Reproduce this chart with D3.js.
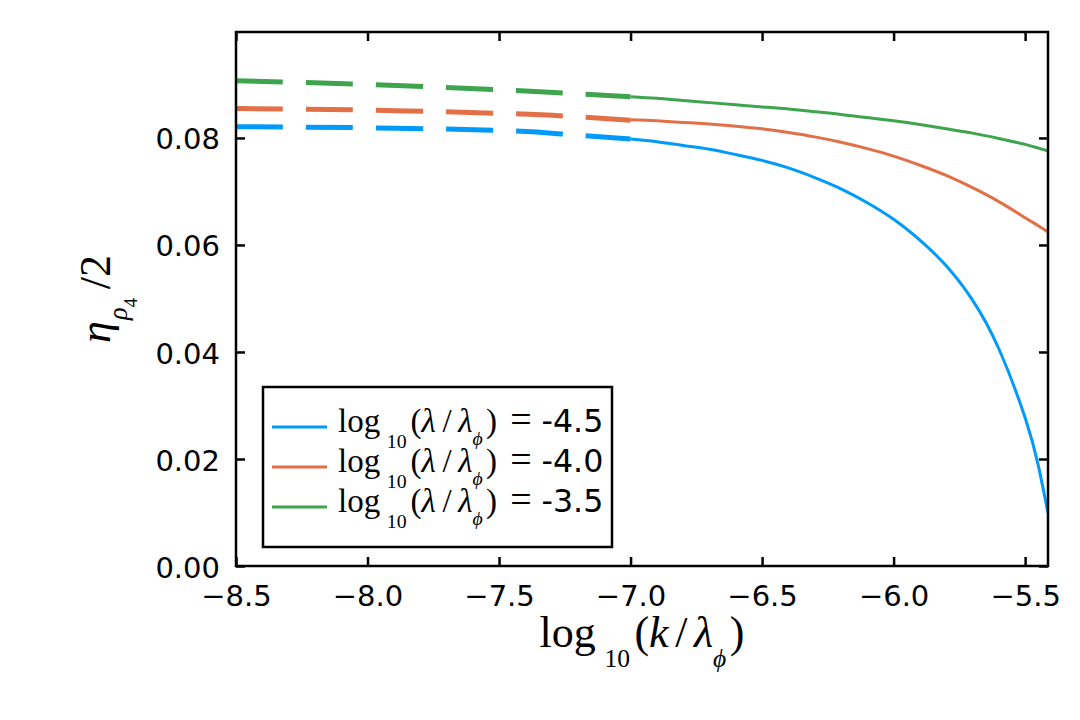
<!DOCTYPE html>
<html>
<head>
<meta charset="utf-8">
<script src="https://cdn.jsdelivr.net/npm/d3@7"></script>
<style>
  body { margin: 0; background: #fff; }
  .tick text { font-family: "DejaVu Sans", sans-serif; font-size: 29px; fill: #000; }
  .math { font-family: "Liberation Serif", serif; fill: #000; }
</style>
</head>
<body>
<script>
var width = 1080,
  height = 720,
  margin = { left: 236, right: 32, top: 32, bottom: 154 };

// axis ticks
var xTicks = [-8.5, -8.0, -7.5, -7.0, -6.5, -6.0, -5.5];
var yTicks = [0, 0.02, 0.04, 0.06, 0.08];

// log10(k/lambda_phi) sample points
var kDashed = [-8.5, -8.0, -7.5, -7.25, -7.0];
var kSolid = [-7.0, -6.9, -6.8, -6.7, -6.6, -6.5, -6.4, -6.3, -6.2, -6.1, -6.0,
  -5.9, -5.8, -5.7, -5.6, -5.5, -5.45, -5.413];

var seriesNames = ["-4.5", "-4.0", "-3.5"];
var seriesColors = ["#009afa", "#e36f47", "#3ea44e"];

var dashedBlue = [0.0821, 0.0819, 0.0814, 0.0807, 0.0798];
var dashedOrange = [0.0855, 0.0852, 0.0846, 0.0841, 0.0833];
var dashedGreen = [0.0907, 0.09, 0.089, 0.0884, 0.0877];

var solidBlue = [0.0798, 0.0793, 0.0786, 0.0779, 0.0769, 0.0758, 0.0744, 0.0726, 0.0705, 0.0679, 0.0648,
  0.0609, 0.0561, 0.0497, 0.0406, 0.0277, 0.0188, 0.0099];
var solidOrange = [0.0834, 0.0832, 0.0829, 0.0826, 0.0822, 0.0817, 0.081, 0.0802, 0.0792, 0.078, 0.0766,
  0.0749, 0.073, 0.0707, 0.0681, 0.0651, 0.0636, 0.0624];
var solidGreen = [0.0877, 0.0874, 0.087, 0.0866, 0.0862, 0.0858, 0.0854, 0.0849, 0.0844, 0.0838, 0.0832,
  0.0825, 0.0817, 0.0809, 0.0799, 0.0788, 0.0781, 0.0776];

var dashedValues = [dashedBlue, dashedOrange, dashedGreen];
var solidValues = [solidBlue, solidOrange, solidGreen];

var svg = d3
  .select("body")
  .append("svg")
  .attr("width", width)
  .attr("height", height);

var xScale = d3
  .scaleLinear()
  .domain([-8.5, -5.413])
  .range([margin.left, width - margin.right]);

var yScale = d3
  .scaleLinear()
  .domain([0, 0.0998])
  .range([height - margin.bottom, margin.top]);

svg
  .append("clipPath")
  .attr("id", "plot-clip")
  .append("rect")
  .attr("x", margin.left)
  .attr("y", margin.top)
  .attr("width", width - margin.left - margin.right)
  .attr("height", height - margin.top - margin.bottom);

var line = d3
  .line()
  .x((d) => xScale(d[0]))
  .y((d) => yScale(d[1]))
  .curve(d3.curveNatural);

var curves = svg.append("g").attr("clip-path", "url(#plot-clip)");

seriesNames.forEach((name, i) => {
  curves
    .append("path")
    .datum(kDashed.map((k, j) => [k, dashedValues[i][j]]))
    .attr("d", line)
    .attr("fill", "none")
    .attr("stroke", seriesColors[i])
    .attr("stroke-width", 5)
    .attr("stroke-dasharray", "47,23");

  curves
    .append("path")
    .datum(kSolid.map((k, j) => [k, solidValues[i][j]]))
    .attr("d", line)
    .attr("fill", "none")
    .attr("stroke", seriesColors[i])
    .attr("stroke-width", 3);
});

// axes, ticks pointing inward on all four sides
var xAxis = d3.axisBottom(xScale).tickValues(xTicks).tickFormat(d3.format(".1f"))
  .tickSizeInner(-9).tickSizeOuter(0).tickPadding(19);
var yAxis = d3.axisLeft(yScale).tickValues(yTicks).tickFormat(d3.format(".2f"))
  .tickSizeInner(-9).tickSizeOuter(0).tickPadding(16);
var xTop = d3.axisTop(xScale).tickValues(xTicks).tickFormat("").tickSizeInner(-9).tickSizeOuter(0);
var yRight = d3.axisRight(yScale).tickValues(yTicks).tickFormat("").tickSizeInner(-9).tickSizeOuter(0);

function styleAxis(g) {
  g.select(".domain").remove();
  g.selectAll(".tick line").attr("stroke", "#000").attr("stroke-width", 2.5);
}

svg.append("g")
  .attr("transform", `translate(0,${height - margin.bottom})`)
  .call(xAxis).call(styleAxis);

svg.append("g")
  .attr("transform", `translate(${margin.left},0)`)
  .call(yAxis).call(styleAxis)
  .selectAll(".tick text").attr("dy", "0.38em");

svg.append("g")
  .attr("transform", `translate(0,${margin.top})`)
  .call(xTop).call(styleAxis);

svg.append("g")
  .attr("transform", `translate(${width - margin.right},0)`)
  .call(yRight).call(styleAxis);

svg
  .append("rect")
  .attr("x", margin.left)
  .attr("y", margin.top)
  .attr("width", width - margin.left - margin.right)
  .attr("height", height - margin.top - margin.bottom)
  .attr("fill", "none")
  .attr("stroke", "#000")
  .attr("stroke-width", 2.5);

// builds a LaTeX-like label out of tspans
function mathLabel(text, parts, size) {
  var prev = 0;
  parts.forEach((p) => {
    var sh = (p.sh || 0) * size;
    text
      .append("tspan")
      .attr("dy", sh - prev)
      .attr("dx", (p.dx || 0) * size)
      .style("font-size", (p.s || 1) * size + "px")
      .style("font-style", p.it ? "italic" : "normal")
      .style("font-family", p.sans ? "'DejaVu Sans', sans-serif" : null)
      .text(p.t);
    prev = sh;
  });
}

var xLabel = svg
  .append("text")
  .attr("class", "math")
  .attr("x", (margin.left + width - margin.right) / 2)
  .attr("y", 647)
  .attr("text-anchor", "middle");

mathLabel(xLabel, [
  { t: "log" },
  { t: "10", s: 0.58, sh: 0.45, dx: 0.2 },
  { t: "(", dx: 0.1 },
  { t: "k", it: 1 },
  { t: "/", dx: 0.15 },
  { t: "λ", it: 1, dx: 0.15 },
  { t: "ϕ", it: 1, s: 0.58, sh: 0.45 },
  { t: ")", dx: 0.08 }
], 44);

var yLabel = svg
  .append("text")
  .attr("class", "math")
  .attr("transform", "translate(110,299) rotate(-90)")
  .attr("text-anchor", "middle");

mathLabel(yLabel, [
  { t: "η", it: 1 },
  { t: "ρ", it: 1, s: 0.6, sh: 0.38, dx: 0.03 },
  { t: "4", s: 0.42, sh: 0.62 },
  { t: "/", dx: 0.2 },
  { t: "2" }
], 44);

// legend
var legend = svg.append("g").attr("transform", "translate(263,387)");

legend
  .append("rect")
  .attr("width", 349)
  .attr("height", 160)
  .attr("fill", "#fff")
  .attr("stroke", "#000")
  .attr("stroke-width", 2.5);

seriesNames.forEach((name, i) => {
  var row = legend.append("g").attr("transform", `translate(0,${40 + i * 40})`);
  row
    .append("line")
    .attr("x1", 9)
    .attr("x2", 64)
    .attr("stroke", seriesColors[i])
    .attr("stroke-width", 3);
  var label = row
    .append("text")
    .attr("class", "math")
    .attr("x", 75)
    .attr("y", 5);
  mathLabel(label, [
    { t: "log" },
    { t: "10", s: 0.6, sh: 0.48, dx: 0.2 },
    { t: "(", dx: 0.12 },
    { t: "λ", it: 1 },
    { t: "/", dx: 0.2 },
    { t: "λ", it: 1, dx: 0.2 },
    { t: "ϕ", it: 1, s: 0.6, sh: 0.4 },
    { t: ")", dx: 0.1 },
    { t: "=", s: 1.15, dx: 0.4 },
    { t: name, sans: 1, s: 0.96, dx: 0.3 }
  ], 33);
});
</script>
</body>
</html>
